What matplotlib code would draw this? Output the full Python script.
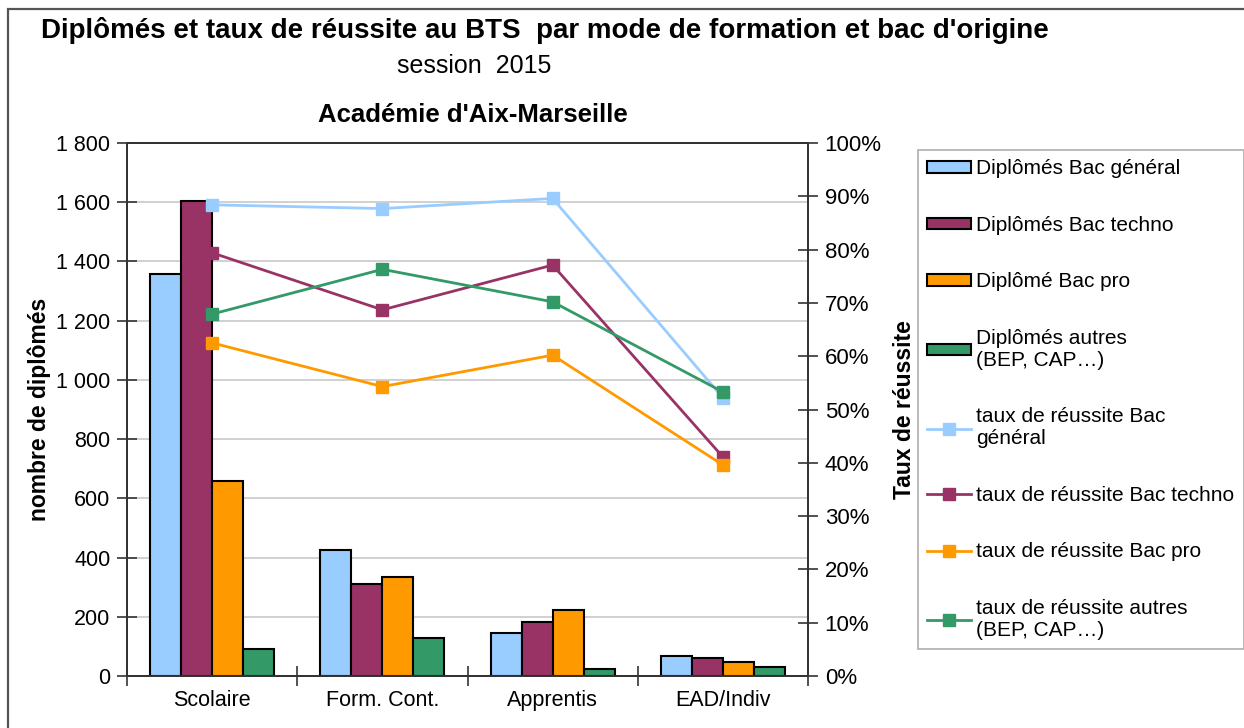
import matplotlib
matplotlib.use("Agg")
import matplotlib.pyplot as plt
import numpy as np
from matplotlib.patches import Rectangle, Patch
from matplotlib.lines import Line2D
from matplotlib.ticker import FuncFormatter, MultipleLocator

plt.rcParams['font.family'] = ['Liberation Sans', 'DejaVu Sans']

categories = ["Scolaire", "Form. Cont.", "Apprentis", "EAD/Indiv"]

dipl_general = [1358, 425, 144, 69]
dipl_techno = [1605, 310, 182, 62]
dipl_pro = [660, 335, 223, 48]
dipl_autres = [92, 129, 25, 31]

taux_general = [0.884, 0.877, 0.896, 0.522]
taux_techno = [0.794, 0.687, 0.771, 0.411]
taux_pro = [0.625, 0.543, 0.602, 0.396]
taux_autres = [0.679, 0.763, 0.702, 0.533]

bar_labels = ["Diplômés Bac général", "Diplômés Bac techno", "Diplômé Bac pro",
              "Diplômés autres\n(BEP, CAP…)"]
line_labels = ["taux de réussite Bac\ngénéral", "taux de réussite Bac techno",
               "taux de réussite Bac pro", "taux de réussite autres\n(BEP, CAP…)"]

colors = ["#99CCFF", "#993366", "#FF9900", "#339966"]

W, H = 1244, 728
fig = plt.figure(figsize=(W / 100, H / 100), dpi=100)

# outer chart frame
fig.add_artist(Rectangle((8 / W, -0.05), 1.1, 1 - 9 / H + 0.05, transform=fig.transFigure,
                         fill=False, edgecolor="#555555", linewidth=1.6))

ax = fig.add_axes([127 / W, 1 - 676 / H, (808 - 127) / W, (676 - 143) / H])
ax2 = ax.twinx()

x = np.arange(len(categories))
bw = 0.182
series_bars = [dipl_general, dipl_techno, dipl_pro, dipl_autres]
for i, (vals, c) in enumerate(zip(series_bars, colors)):
    ax.bar(x + (i - 1.5) * bw, vals, width=bw, color=c, edgecolor="black",
           linewidth=1.5, zorder=3)

ax.set_xlim(-0.5, len(categories) - 0.5)
ax.set_ylim(0, 1800)
ax.yaxis.set_major_locator(MultipleLocator(200))
ax.yaxis.set_major_formatter(FuncFormatter(lambda v, p: f"{int(v):,}".replace(",", " ")))
ax.grid(axis="y", color="#C8C8C8", linewidth=1.2, zorder=0)
ax.set_axisbelow(True)

ax.set_xticks(x)
ax.set_xticklabels(categories, fontsize=15.5)
ax.tick_params(axis="x", which="major", length=0, pad=10)
ax.set_xticks(np.arange(-0.5, len(categories)), minor=True)
ax.tick_params(axis="x", which="minor", length=14, direction="inout", width=1.2, color="#333333")
ax.tick_params(axis="y", labelsize=15.5, length=14, direction="inout", width=1.2,
               color="#333333", pad=5)

ax.set_ylabel("nombre de diplômés", fontsize=16.5, fontweight="bold", labelpad=4)

series_lines = [taux_general, taux_techno, taux_pro, taux_autres]
for vals, c in zip(series_lines, colors):
    ax2.plot(x, vals, color=c, linewidth=2, marker="s", markersize=8.5,
             markeredgecolor=c, zorder=4)
ax2.set_ylim(0, 1)
ax2.yaxis.set_major_locator(MultipleLocator(0.1))
ax2.yaxis.set_major_formatter(FuncFormatter(lambda v, p: f"{int(round(v * 100))}%"))
ax2.tick_params(axis="y", labelsize=16, length=14, direction="inout", width=1.2,
                color="#333333", pad=5)
ax2.set_ylabel("Taux de réussite", fontsize=16.5, fontweight="bold", labelpad=8)

for a in (ax, ax2):
    for s in a.spines.values():
        s.set_color("#333333")
        s.set_linewidth(1.3)

# titles
fig.text(545 / W, 1 - 31 / H, "Diplômés et taux de réussite au BTS  par mode de formation et bac d'origine",
         ha="center", va="center", fontsize=20, fontweight="bold")
fig.text(474 / W, 1 - 66 / H, "session  2015", ha="center", va="center", fontsize=18)
fig.text(473 / W, 1 - 115 / H, "Académie d'Aix-Marseille", ha="center", va="center",
         fontsize=18.5, fontweight="bold")

# legend
handles = [Patch(facecolor=c, edgecolor="black", linewidth=1.5) for c in colors]
handles += [Line2D([0], [0], color=c, linewidth=2, marker="s", markersize=8.5,
                   markeredgecolor=c) for c in colors]
leg = fig.legend(handles, bar_labels + line_labels, loc="upper left",
                 bbox_to_anchor=(918 / W, 1 - 150 / H), fontsize=15, frameon=True,
                 fancybox=False, edgecolor="#999999", labelspacing=1.8,
                 handlelength=2.1, handleheight=0.45, handletextpad=0.25,
                 borderpad=0.45, borderaxespad=0)
leg.get_frame().set_linewidth(1.2)

fig.savefig("out.png", dpi=100)
